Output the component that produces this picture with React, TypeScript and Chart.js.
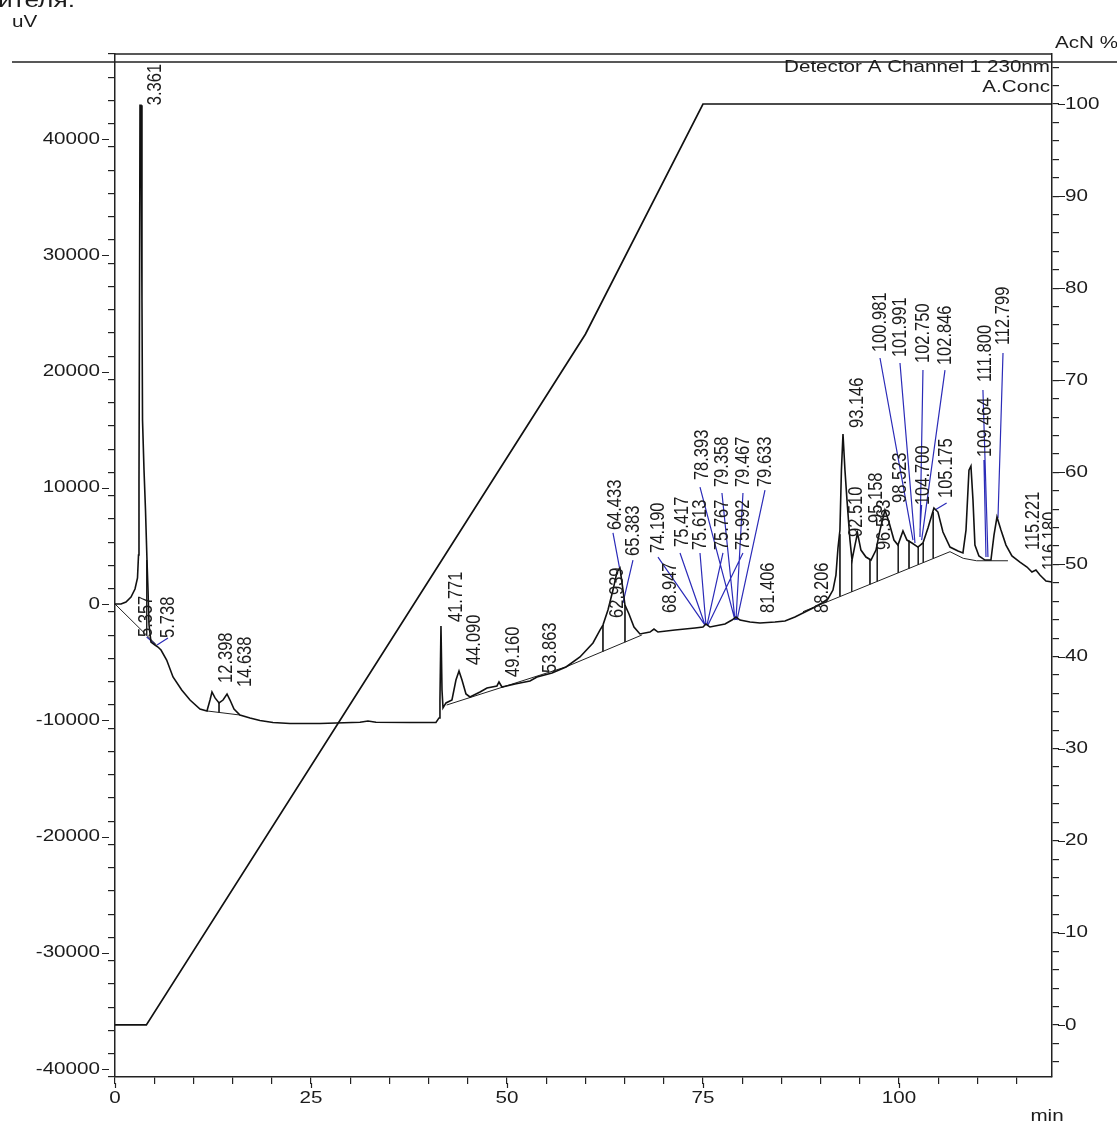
import React, { useEffect, useRef } from 'react';
import { Chart, registerables } from 'chart.js';

Chart.register(...registerables);

// ---- chromatogram trace (min, uV) ----
const traceTime = [
  0, 0.77, 1.40, 2.04, 2.55, 2.87, 3.00, 3.06, 3.13, 3.19,
  3.32, 3.44, 3.51, 3.70, 3.89, 4.08, 4.21, 4.34, 4.59, 5.10,
  5.48, 5.87, 6.59, 7.40, 8.51, 9.57, 10.84, 11.73, 12.12, 12.37,
  12.76, 13.27, 13.78, 14.29, 14.67, 15.18, 15.94, 17.22, 18.49, 20.15,
  22.32, 26.15, 31.25, 32.27, 33.29, 37.63, 40.94, 41.33, 41.45, 41.58,
  41.71, 41.84, 42.22, 42.98, 43.49, 43.88, 44.26, 44.77, 45.28, 46.56,
  47.45, 48.72, 48.98, 49.36, 51.02, 52.93, 53.83, 55.74, 57.53, 59.31,
  60.97, 61.86, 62.24, 62.88, 63.52, 64.03, 64.41, 64.80, 65.05, 65.56,
  66.20, 66.96, 68.24, 68.75, 69.26, 71.43, 73.98, 75.00, 75.38, 75.89,
  77.81, 78.70, 79.21, 79.72, 81.00, 82.27, 84.18, 85.46, 86.73, 88.01,
  89.29, 90.18, 90.94, 91.58, 91.96, 92.22, 92.47, 92.66, 92.86, 93.11,
  93.37, 93.75, 94.01, 94.39, 94.71, 95.15, 95.79, 96.43, 97.07, 97.58,
  98.21, 98.72, 99.36, 99.87, 100.51, 101.02, 101.66, 102.42, 103.06, 103.70,
  104.46, 104.97, 105.61, 106.51, 107.53, 108.16, 108.55, 108.93, 109.18, 109.44,
  109.69, 110.20, 110.97, 111.73, 112.12, 112.50, 113.01, 113.65, 114.41, 115.43,
  116.33, 116.96, 117.47, 117.98, 118.75, 119.52,
];
const traceUV = [
  0, 0, 170, 600, 1290, 2240, 4210, 10660, 26140, 42900,
  42900, 26140, 15820, 11520, 8080, 3780, 1200, -1810, -3270, -3530,
  -3700, -3960, -4820, -6280, -7400, -8260, -9030, -9200, -8260, -7570,
  -8080, -8510, -8260, -7740, -8260, -9030, -9550, -9800, -10020, -10190,
  -10280, -10280, -10170, -10060, -10170, -10190, -10190, -9800, -8260, -1890,
  -7400, -8940, -8510, -8260, -6540, -5760, -6540, -7740, -8000, -7570,
  -7220, -7050, -6710, -7140, -6880, -6620, -6280, -5930, -5420, -4560,
  -3350, -2240, -1810, -520, 1200, 2750, 3100, 1200, -90, -860,
  -1980, -2580, -2410, -2150, -2410, -2240, -2060, -1980, -1720, -1980,
  -1720, -1380, -1120, -1380, -1550, -1630, -1550, -1460, -1120, -690,
  -260, 90, 430, 1200, 2490, 4820, 6360, 11520, 14620, 11520,
  8940, 5500, 3780, 5070, 6110, 4640, 4040, 3780, 4640, 6360,
  8080, 7050, 5500, 5070, 6280, 5500, 5250, 4900, 5250, 6540,
  8260, 7910, 6190, 4900, 4560, 4390, 6360, 11520, 11870, 8940,
  5070, 4130, 3780, 3780, 5930, 7480, 6360, 5070, 4130, 3610,
  3180, 2750, 2920, 2490, 1980, 1890,
];

// ---- gradient program A.Conc (min, %) ----
const gradTime = [0, 4, 60, 75, 119.52];
const gradPct = [0, 0, 75, 100, 100];

// ---- integration baselines (null = break) ----
const baseTime = [0, 5.3, null, 11.73, 15.94, null, 42.3, 57.6, 67.2, null, 87.76, 106.51, 108.2, 109.9, 113.9];
const baseUV = [0, -3530, null, -9200, -9550, null, -8690, -5390, -2670, null, -660, 4500, 3930, 3720, 3720];

// ---- peak drop lines ----
const dropTime = [4.04, 13.27, 62.24, 65.05, 92.47, 93.97, 96.30, 97.23, 99.91, 101.28, 102.46, 103.10, 104.37];
const dropTop = [3780, -8510, -1810, -90, 6000, 3780, 3800, 4800, 5070, 5450, 4900, 5250, 7900];
const dropBottom = [-2690, -9330, -4090, -3280, 650, 1050, 1690, 1950, 2680, 3060, 3380, 3560, 3920];

// ---- blue label leader lines ----
const leaderFromT = [4.04, 6.76, 63.52, 66.07, 69.26, 72.07, 74.62, 74.62, 77.55, 77.42, 80.10, 80.10, 82.91, 97.58, 100.13, 103.06, 105.87, 102.89, 106.08, 110.71, 110.84, 113.27];
const leaderFromUV = [-2840, -2920, 6110, 3780, 4040, 4390, 4390, 10060, 4390, 9550, 4390, 9550, 9800, 21160, 20730, 20120, 20120, 8510, 8690, 18400, 12380, 21590];
const leaderToT = [5.10, 5.36, 64.41, 64.80, 75.26, 75.26, 75.38, 79.08, 75.51, 79.08, 75.64, 79.21, 79.34, 101.79, 102.04, 102.68, 102.89, 102.68, 104.59, 111.35, 111.10, 112.63];
const leaderToUV = [-3440, -3530, 2920, 90, -1810, -1810, -1810, -1380, -1810, -1380, -1810, -1380, -1380, 5500, 5250, 5760, 5500, 6360, 8080, 4040, 4040, 7400];

// ---- peak labels ----
const peakNames = ['3.361', '5.357', '5.738', '12.398', '14.638', '41.771', '44.090', '49.160', '53.863', '62.939', '64.433', '65.383', '68.947', '74.190', '75.417', '75.613', '78.393', '75.767', '79.358', '75.992', '79.467', '79.633', '81.406', '88.206', '93.146', '92.510', '95.158', '96.563', '98.523', '100.981', '101.991', '102.750', '102.846', '104.700', '105.175', '111.800', '109.464', '112.799', '115.221', '116.180'];
const labelT = [5.10, 4.04, 6.76, 14.25, 16.58, 43.49, 45.83, 50.80, 55.48, 64.03, 63.78, 66.07, 70.79, 69.26, 72.32, 74.62, 74.87, 77.42, 77.42, 80.10, 80.10, 82.91, 83.29, 90.18, 94.64, 94.52, 97.07, 98.09, 100.13, 97.58, 100.13, 103.06, 105.87, 103.06, 106.08, 110.97, 110.97, 113.27, 117.09, 119.3];
const labelUV = [42910, -2840, -2920, -6790, -7140, -1550, -5250, -6280, -5930, -1200, 6360, 4130, -770, 4390, 4900, 4640, 10660, 4640, 10060, 4640, 10060, 10060, -770, -770, 15140, 5760, 6970, 4640, 8690, 21670, 21240, 20730, 20550, 8510, 9120, 19090, 12640, 22270, 4640, 2920];

// ---- axis tick labels ----
const leftTicks = [-40000, -30000, -20000, -10000, 0, 10000, 20000, 30000, 40000];
const rightTicks = [0, 10, 20, 30, 40, 50, 60, 70, 80, 90, 100];
const xTicks = [0, 25, 50, 75, 100];

const W = 1117;
const H = 1128;
const FONT = '"Liberation Sans", Arial, sans-serif';
const TXT = '#1c1c1c';
const STRETCH = 1.25;

function pts(xs: (number | null)[], ys: (number | null)[]) {
  const n = Math.min(xs.length, ys.length);
  const out: { x: number; y: number }[] = [];
  for (let i = 0; i < n; i++) {
    const x = xs[i];
    const y = ys[i];
    out.push({ x: x == null ? NaN : x, y: y == null ? NaN : y });
  }
  return out;
}

function segs(x1: number[], y1: number[], x2: number[], y2: number[]) {
  const out: { x: number; y: number }[] = [];
  for (let i = 0; i < x1.length; i++) {
    out.push({ x: x1[i], y: y1[i] });
    out.push({ x: x2[i], y: y2[i] });
    out.push({ x: NaN, y: NaN });
  }
  return out;
}

function txt(ctx: CanvasRenderingContext2D, s: string, x: number, y: number, align: CanvasTextAlign, size = 16.5, rotate = false) {
  ctx.save();
  ctx.translate(x, y);
  ctx.scale(STRETCH, 1);
  if (rotate) ctx.rotate(-Math.PI / 2);
  ctx.font = `${size}px ${FONT}`;
  ctx.fillStyle = TXT;
  ctx.textAlign = align;
  ctx.textBaseline = 'middle';
  ctx.fillText(s, 0, 0);
  ctx.restore();
}

const overlay = {
  id: 'overlay',
  afterDraw(chart: any) {
    const ctx: CanvasRenderingContext2D = chart.ctx;
    const a = chart.chartArea;
    const sx = chart.scales.x;
    const sy = chart.scales.y;
    const sy2 = chart.scales.y2;
    ctx.save();
    ctx.strokeStyle = '#222';
    ctx.lineWidth = 1.5;
    ctx.beginPath();
    ctx.moveTo(a.left, a.top);
    ctx.lineTo(a.right, a.top);
    ctx.moveTo(12, 62);
    ctx.lineTo(W, 62);
    ctx.stroke();
    ctx.lineWidth = 1.2;
    ctx.beginPath();
    leftTicks.forEach((v) => {
      const y = Math.round(sy.getPixelForValue(v)) + 0.5;
      ctx.moveTo(a.left - 13, y);
      ctx.lineTo(a.left - 6, y);
    });
    rightTicks.forEach((v) => {
      const y = Math.round(sy2.getPixelForValue(v)) + 0.5;
      ctx.moveTo(a.right + 6, y);
      ctx.lineTo(a.right + 13, y);
    });
    xTicks.forEach((v) => {
      const x = Math.round(sx.getPixelForValue(v)) + 0.5;
      ctx.moveTo(x, a.bottom + 6);
      ctx.lineTo(x, a.bottom + 11);
    });
    ctx.stroke();
    ctx.restore();

    leftTicks.forEach((v) => txt(ctx, String(v), a.left - 15, sy.getPixelForValue(v), 'right'));
    rightTicks.forEach((v) => txt(ctx, String(v), a.right + 13, sy2.getPixelForValue(v), 'left'));
    xTicks.forEach((v) => txt(ctx, String(v), sx.getPixelForValue(v), a.bottom + 21, 'center'));

    txt(ctx, 'uV', 12, 22, 'left');
    txt(ctx, 'AcN %', 1055, 43, 'left');
    txt(ctx, 'min', 1047, 1116, 'center');
    txt(ctx, 'Detector A Channel 1 230nm', a.right - 2, 67, 'right');
    txt(ctx, 'A.Conc', a.right - 2, 87, 'right');
    txt(ctx, 'ителя.', -2, 1, 'left', 21);

    ctx.save();
    ctx.beginPath();
    ctx.rect(a.left, a.top, a.right - a.left, a.bottom - a.top);
    ctx.clip();
    const n = Math.min(peakNames.length, labelT.length, labelUV.length);
    for (let i = 0; i < n; i++) {
      txt(ctx, peakNames[i], sx.getPixelForValue(labelT[i]), sy.getPixelForValue(labelUV[i]), 'left', 16.5, true);
    }
    ctx.restore();
  },
};

export default function App() {
  const ref = useRef<HTMLCanvasElement | null>(null);
  useEffect(() => {
    if (!ref.current) return;
    const dropPts: { x: number; y: number }[] = [];
    for (let i = 0; i < dropTime.length; i++) {
      dropPts.push({ x: dropTime[i], y: dropTop[i] });
      dropPts.push({ x: dropTime[i], y: dropBottom[i] });
      dropPts.push({ x: NaN, y: NaN });
    }
    const common = { showLine: true, pointRadius: 0, pointHoverRadius: 0, spanGaps: false, tension: 0, fill: false };
    const chart = new Chart(ref.current, {
      type: 'scatter',
      data: {
        datasets: [
          { ...common, label: 'Detector A Channel 1 230nm', data: pts(traceTime, traceUV), borderColor: '#111', borderWidth: 1.6, yAxisID: 'y' },
          { ...common, label: 'A.Conc', data: pts(gradTime, gradPct), borderColor: '#111', borderWidth: 1.7, yAxisID: 'y2' },
          { ...common, label: 'baseline', data: pts(baseTime, baseUV), borderColor: '#222', borderWidth: 1, yAxisID: 'y' },
          { ...common, label: 'drops', data: dropPts, borderColor: '#222', borderWidth: 1, yAxisID: 'y' },
          { ...common, label: 'leaders', data: segs(leaderFromT, leaderFromUV, leaderToT, leaderToUV), borderColor: '#2b2bb8', borderWidth: 1.2, yAxisID: 'y' },
        ],
      } as any,
      options: {
        animation: false,
        responsive: false,
        events: [],
        layout: { padding: { top: 54, left: 0, right: 0, bottom: 0 } },
        plugins: { legend: { display: false }, tooltip: { enabled: false }, title: { display: false } },
        scales: {
          x: {
            type: 'linear', position: 'bottom', min: 0, max: 119.52,
            ticks: { display: false, stepSize: 5, includeBounds: false },
            grid: { drawOnChartArea: false, drawTicks: true, tickLength: 7, color: '#222', lineWidth: 1.2 },
            border: { display: true, color: '#222', width: 1.5 },
            afterFit: (s: any) => { s.height = H - 1077; },
          },
          y: {
            type: 'linear', position: 'left', min: -40688, max: 47312,
            ticks: { display: false, stepSize: 2000, includeBounds: false },
            grid: { drawOnChartArea: false, drawTicks: true, tickLength: 7, color: '#222', lineWidth: 1.2 },
            border: { display: true, color: '#222', width: 1.5 },
            afterFit: (s: any) => { s.width = 115; },
          },
          y2: {
            type: 'linear', position: 'right', min: -5.65, max: 105.43,
            ticks: { display: false, stepSize: 2, includeBounds: false },
            grid: { drawOnChartArea: false, drawTicks: true, tickLength: 7, color: '#222', lineWidth: 1.2 },
            border: { display: true, color: '#222', width: 1.5 },
            afterFit: (s: any) => { s.width = W - 1052; },
          },
        },
      } as any,
      plugins: [overlay],
    });
    return () => chart.destroy();
  }, []);
  return (
    <div style={{ position: 'absolute', left: 0, top: 0, width: W, height: H, background: '#fff' }}>
      <canvas ref={ref} width={W} height={H} style={{ display: 'block' }} />
    </div>
  );
}
